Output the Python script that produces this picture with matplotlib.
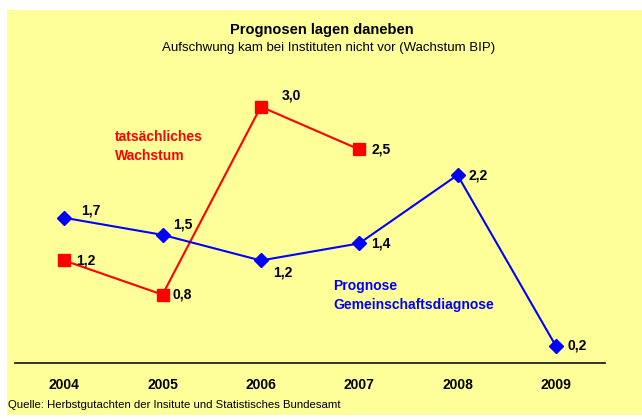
import matplotlib
matplotlib.use("Agg")
import matplotlib.pyplot as plt
from matplotlib.patches import Rectangle

plt.rcParams['font.family'] = ['Liberation Sans', 'DejaVu Sans']

# data
years = ["2004", "2005", "2006", "2007", "2008", "2009"]
actual_years = ["2004", "2005", "2006", "2007"]
actual_growth = [1.2, 0.8, 3.0, 2.5]
forecast = [1.7, 1.5, 1.2, 1.4, 2.2, 0.2]

# label offsets in pixels (dx, dy) from marker
actual_offsets = [(12, 0), (10, 0), (21, 11), (12, 0)]
forecast_offsets = [(17, 7), (11, 10), (12, -12), (12, 0), (11, 0), (12, 0)]

W, H = 642, 419
fig = plt.figure(figsize=(W / 100, H / 100), dpi=100)
fig.patch.set_facecolor("white")

bg = Rectangle((7 / W, 1 - 415 / H), (W - 7) / W, (415 - 10) / H,
               transform=fig.transFigure, facecolor="#FFFF99",
               edgecolor="none", zorder=-5)
fig.patches.append(bg)

ax = fig.add_axes([15 / W, 1 - 363 / H, (605 - 15) / W, (363 - 64) / H])
ax.set_facecolor("none")
ax.set_zorder(2)

xs = list(range(len(years)))
xa = [years.index(y) for y in actual_years]

ax.plot(xa, actual_growth, color="#FF0000", lw=1.5, marker="s",
        markersize=8.5, markeredgecolor="#FF0000", zorder=3)
ax.plot(xs, forecast, color="#0000FF", lw=1.5, marker="D",
        markersize=7.5, markeredgecolor="#0000FF", zorder=3)

for x, v, (dx, dy) in zip(xa, actual_growth, actual_offsets):
    ax.annotate("{:.1f}".format(v).replace(".", ","), (x, v),
                xytext=(dx, dy), textcoords="offset pixels",
                ha="left", va="center", fontsize=10, fontweight="bold")
for x, v, (dx, dy) in zip(xs, forecast, forecast_offsets):
    ax.annotate("{:.1f}".format(v).replace(".", ","), (x, v),
                xytext=(dx, dy), textcoords="offset pixels",
                ha="left", va="center", fontsize=10, fontweight="bold")

ax.text(0.52, 2.53, "tatsächliches\nWachstum", color="#FF0000",
        fontsize=10, fontweight="bold", ha="left", va="center",
        linespacing=1.45)
ax.text(2.74, 0.79, "Prognose\nGemeinschaftsdiagnose", color="#0000FF",
        fontsize=10, fontweight="bold", ha="left", va="center",
        linespacing=1.45)

ax.set_xlim(-0.5, 5.5)
ax.set_ylim(0, 3.5)
ax.set_xticks(xs)
ax.set_xticklabels(years, fontsize=10, fontweight="bold")
ax.tick_params(axis="x", length=0, pad=11)
ax.set_yticks([])
for s in ["left", "right", "top"]:
    ax.spines[s].set_visible(False)
ax.spines["bottom"].set_color("#222222")
ax.spines["bottom"].set_linewidth(1.3)

fig.text(322 / W, 1 - 30 / H, "Prognosen lagen daneben", ha="center",
         va="center", fontsize=10.5, fontweight="bold")
fig.text(329 / W, 1 - 48 / H,
         "Aufschwung kam bei Instituten nicht vor (Wachstum BIP)",
         ha="center", va="center", fontsize=9.5)
fig.text(8 / W, 1 - 405 / H,
         "Quelle: Herbstgutachten der Insitute und Statistisches Bundesamt",
         ha="left", va="center", fontsize=8.2)

fig.savefig("out.png", dpi=100, facecolor=fig.get_facecolor())
